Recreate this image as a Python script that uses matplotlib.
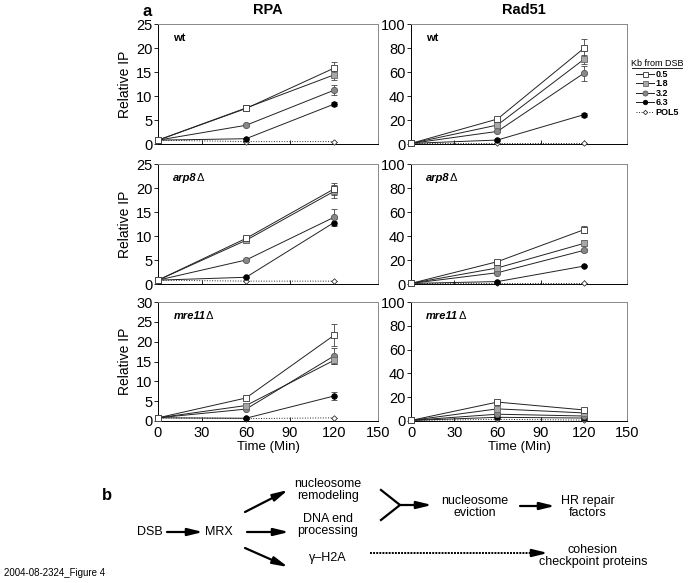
import matplotlib
matplotlib.use('Agg')
import matplotlib.pyplot as plt
from matplotlib.lines import Line2D

plt.rcParams['font.family'] = ['Liberation Sans', 'DejaVu Sans']

W, H = 692, 583

times = [0, 60, 120]
kb_labels = ['0.5', '1.8', '3.2', '6.3', 'POL5']

# rows follow kb_labels order
rpa_wt = [[0.8, 7.4, 15.8], [0.8, 7.5, 14.4], [0.8, 3.9, 11.2], [0.8, 1.1, 8.3], [0.8, 0.5, 0.5]]
rpa_wt_err = [[0, 0.3, 1.2], [0, 0.3, 1.0], [0, 0.2, 1.0], [0, 0.1, 0.4], [0, 0, 0]]
rpa_arp8 = [[0.8, 9.5, 19.8], [0.8, 9.1, 19.3], [0.8, 5.0, 13.9], [0.8, 1.4, 12.8], [0.8, 0.6, 0.6]]
rpa_arp8_err = [[0, 0.5, 1.2], [0, 0.5, 1.3], [0, 0.2, 1.7], [0, 0.2, 0.8], [0, 0, 0]]
rpa_mre11 = [[0.8, 5.8, 21.6], [0.8, 3.9, 15.3], [0.8, 3.0, 16.4], [0.8, 0.7, 6.3], [0.8, 0.6, 0.8]]
rpa_mre11_err = [[0, 0.3, 2.8], [0, 0.3, 1.0], [0, 0.3, 2.0], [0, 0.1, 1.0], [0, 0, 0]]

rad_wt = [[0.5, 20.8, 79.7], [0.5, 15.8, 70.5], [0.5, 10.5, 58.9], [0.5, 3.3, 24.4], [0.5, 0.5, 0.5]]
rad_wt_err = [[0, 1.0, 8.0], [0, 1.0, 4.0], [0, 0.8, 6.0], [0, 0.5, 1.5], [0, 0, 0]]
rad_arp8 = [[0.5, 18.6, 45.2], [0.5, 13.4, 33.8], [0.5, 9.4, 28.0], [0.5, 2.0, 14.9], [0.5, 0.5, 0.5]]
rad_arp8_err = [[0, 1.0, 3.0], [0, 1.0, 2.5], [0, 0.8, 1.5], [0, 0.5, 0.8], [0, 0, 0]]
rad_mre11 = [[0.5, 15.9, 9.3], [0.5, 10.2, 6.8], [0.5, 5.7, 4.2], [0.5, 3.1, 2.5], [0.5, 1.4, 0.8]]
rad_mre11_err = [[0, 0.8, 1.5], [0, 0.8, 1.0], [0, 0.5, 0.8], [0, 0.3, 0.5], [0, 0, 0]]

strains = ['wt', 'arp8', 'mre11']
rpa_ylims = [25, 25, 30]
rpa_ysteps = [5, 5, 5]

styles = {
    '0.5': dict(marker='s', mfc='white', mec='#333333', ms=4.5, ls='-'),
    '1.8': dict(marker='s', mfc='#a8a8a8', mec='#666666', ms=4.5, ls='-'),
    '3.2': dict(marker='o', mfc='#888888', mec='#555555', ms=4.5, ls='-'),
    '6.3': dict(marker='o', mfc='black', mec='black', ms=4.0, ls='-'),
    'POL5': dict(marker='D', mfc='white', mec='#333333', ms=2.8, ls=':'),
}


def rect(l, t, r, b):
    return [l / W, 1 - b / H, (r - l) / W, (b - t) / H]


def draw_panel(ax, data, err, ymax, ystep, strain, bottom):
    for i in range(len(kb_labels) - 1, -1, -1):
        st = styles[kb_labels[i]]
        ax.errorbar(times, data[i], yerr=err[i], color='#222222', lw=0.7,
                    ecolor='#444444', elinewidth=0.6, capsize=2, capthick=0.6,
                    marker=st['marker'], mfc=st['mfc'], mec=st['mec'], ms=st['ms'],
                    mew=0.6, ls=st['ls'], clip_on=False, zorder=3)
    ax.set_xlim(0, 150)
    ax.set_ylim(0, ymax)
    ax.set_xticks(range(0, 151, 30))
    ax.set_yticks(range(0, ymax + 1, ystep))
    ax.tick_params(axis='x', direction='in', length=3, width=0.6, labelsize=10.5)
    ax.tick_params(axis='y', direction='out', length=3, width=0.6, labelsize=10.5, pad=1)
    if not bottom:
        ax.set_xticklabels([])
    else:
        ax.set_xlabel('Time (Min)', fontsize=9.5, labelpad=1)
    for s in ['left', 'bottom']:
        ax.spines[s].set_color('black')
        ax.spines[s].set_linewidth(0.7)
    for s in ['top', 'right']:
        ax.spines[s].set_color('#888888')
        ax.spines[s].set_linewidth(0.7)
    if strain == 'wt':
        ax.text(0.07, 0.88, strain, transform=ax.transAxes, fontsize=8, fontweight='bold', va='center')
    else:
        t = ax.text(0.07, 0.88, strain, transform=ax.transAxes, fontsize=8, fontweight='bold',
                    style='italic', va='center')
        ax.annotate('\u0394', xycoords=t, xy=(1, 0.5), va='center', ha='left', fontsize=8)


fig = plt.figure(figsize=(W / 100, H / 100), dpi=100)

rows = [(24, 144), (164, 284), (302, 421)]
rpa_data = [(rpa_wt, rpa_wt_err), (rpa_arp8, rpa_arp8_err), (rpa_mre11, rpa_mre11_err)]
rad_data = [(rad_wt, rad_wt_err), (rad_arp8, rad_arp8_err), (rad_mre11, rad_mre11_err)]

for k, (t, b) in enumerate(rows):
    ax1 = fig.add_axes(rect(158, t, 378, b))
    draw_panel(ax1, rpa_data[k][0], rpa_data[k][1], rpa_ylims[k], rpa_ysteps[k], strains[k], k == 2)
    ax1.set_ylabel('Relative IP', fontsize=10, labelpad=3)
    ax2 = fig.add_axes(rect(411, t, 627, b))
    draw_panel(ax2, rad_data[k][0], rad_data[k][1], 100, 20, strains[k], k == 2)

fig.text(268 / W, 1 - 10 / H, 'RPA', fontsize=10.5, fontweight='bold', ha='center', va='center')
fig.text(524 / W, 1 - 10 / H, 'Rad51', fontsize=10.5, fontweight='bold', ha='center', va='center')
fig.text(147 / W, 1 - 12 / H, 'a', fontsize=12, fontweight='bold', ha='center', va='center')

# legend
handles = []
for lab in kb_labels:
    st = styles[lab]
    handles.append(Line2D([], [], color='#222222', lw=0.7, ls=st['ls'], marker=st['marker'],
                          mfc=st['mfc'], mec=st['mec'], ms=st['ms'] * 0.8, mew=0.6))
leg = fig.legend(handles, kb_labels, loc='upper left', bbox_to_anchor=(636 / W, 1 - 70 / H),
                 frameon=False, fontsize=6.5, handlelength=2.0, handletextpad=0.2,
                 labelspacing=0.05, borderpad=0, borderaxespad=0)
for txt in leg.get_texts():
    txt.set_fontweight('bold')
fig.text(657 / W, 1 - 63 / H, 'Kb from DSB', fontsize=6.5, ha='center', va='center')
fig.add_artist(Line2D([632 / W, 682 / W], [1 - 68 / H, 1 - 68 / H], color='black', lw=0.6))

# panel b diagram, in pixel coordinates
ov = fig.add_axes([0, 0, 1, 1], zorder=-1)
ov.set_xlim(0, W)
ov.set_ylim(H, 0)
ov.axis('off')

fs = 9
ov.text(107, 495, 'b', fontsize=12, fontweight='bold', ha='center', va='center')
ov.text(150, 532, 'DSB', fontsize=fs, ha='center', va='center')
ov.text(219, 532, 'MRX', fontsize=fs, ha='center', va='center')
ov.text(328, 490, 'nucleosome\nremodeling', fontsize=fs, ha='center', va='center', linespacing=1.1)
ov.text(328, 525, 'DNA end\nprocessing', fontsize=fs, ha='center', va='center', linespacing=1.1)
ov.text(328, 558, '\u03b3\u2013H2A', fontsize=fs, ha='center', va='center')
ov.text(475, 507, 'nucleosome\neviction', fontsize=fs, ha='center', va='center', linespacing=1.1)
ov.text(588, 507, 'HR repair\nfactors', fontsize=fs, ha='center', va='center', linespacing=1.1)
ov.text(593, 556, 'cohesion\ncheckpoint proteins', fontsize=fs, ha='center', va='center', linespacing=1.1)
ov.text(4, 573, '2004-08-2324_Figure 4', fontsize=7, ha='left', va='center')

aprops = dict(arrowstyle='-|>,head_length=0.9,head_width=0.22', color='black', lw=1.6,
              shrinkA=0, shrinkB=0)
arrows = [((167, 532), (203, 532)), ((245, 512), (288, 490)), ((247, 532), (289, 532)),
          ((245, 548), (288, 567)), ((400, 505), (432, 505)), ((520, 506), (555, 506))]
for a, b in arrows:
    ov.annotate('', xy=b, xytext=a, arrowprops=aprops)
ov.plot([370, 535], [553, 553], color='black', lw=1.4, ls=(0, (1, 0.6)))
ov.annotate('', xy=(548, 553), xytext=(534, 553), arrowprops=aprops)
ov.plot([381, 400, 381], [490, 505, 520], color='black', lw=1.6)

fig.savefig('out.png', dpi=100)
